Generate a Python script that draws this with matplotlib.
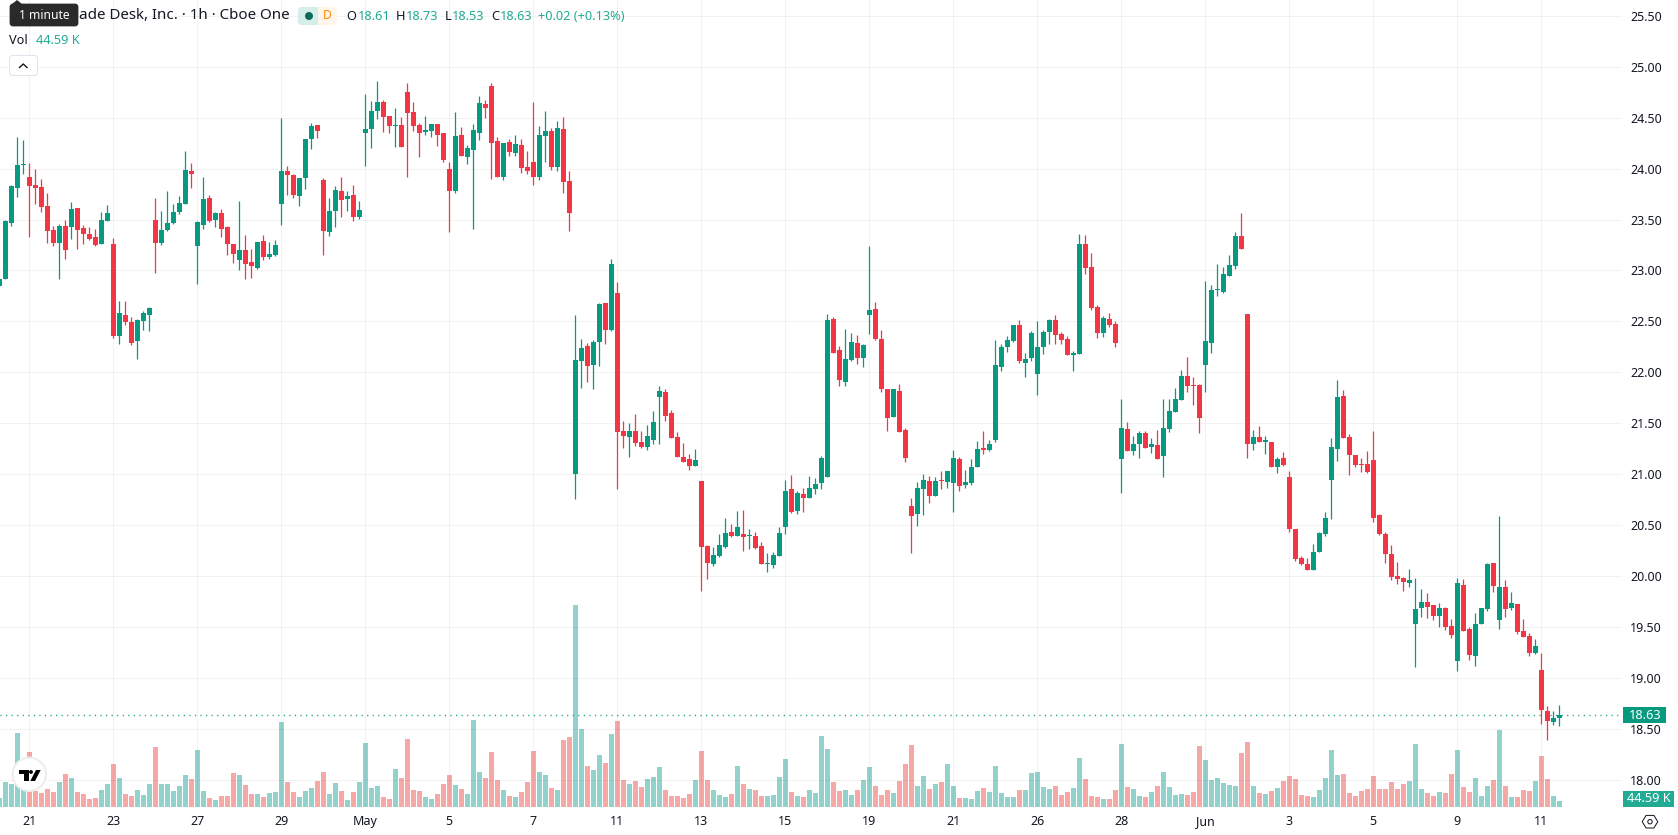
import matplotlib
matplotlib.use("Agg")
import matplotlib.pyplot as plt
import numpy as np
from matplotlib.patches import Circle, FancyBboxPatch, Polygon, Rectangle

WIDTH_PX, HEIGHT_PX = 1678, 835
PLOT_RIGHT = 1622
PLOT_BOTTOM = 807
BAR_PX = 6
PX_PER_DOLLAR = 101.83
K_PER_PX = 44.59 / 6

UP = '#089981'
DOWN = '#F23645'
VOL_UP = '#26a69a'
VOL_DOWN = '#ef5350'
INK = '#131722'

plt.rcParams['font.family'] = ['Noto Sans', 'DejaVu Sans']

# hourly candles, The Trade Desk
opens = [
    22.85, 22.92, 23.47, 23.81, 24.04, 23.92, 23.84, 23.82, 23.63, 23.40,
    23.27, 23.44, 23.43, 23.61, 23.42, 23.36, 23.33, 23.26, 23.49, 23.26,
    22.36, 22.56, 22.49, 22.31, 22.50, 22.56, 23.50, 23.27, 23.40, 23.47,
    23.57, 23.65, 23.98, 23.24, 23.45, 23.71, 23.50, 23.56, 23.43, 23.26,
    23.10, 23.20, 23.08, 23.02, 23.29, 23.13, 23.15, 23.65, 23.98, 23.94,
    23.73, 23.91, 24.29, 24.43, 23.89, 23.38, 23.58, 23.78, 23.70, 23.74,
    23.53, 24.35, 24.39, 24.57, 24.65, 24.52, 24.42, 24.43, 24.75, 24.56,
    24.43, 24.36, 24.37, 24.44, 24.35, 24.00, 23.78, 24.33, 24.11, 24.18,
    24.35, 24.63, 24.81, 24.27, 23.92, 24.26, 24.15, 24.23, 24.02, 24.07,
    23.92, 24.32, 24.37, 24.02, 24.39, 23.88, 21.00, 22.11, 22.26, 22.07,
    22.30, 22.68, 22.42, 22.78, 21.42, 21.36, 21.42, 21.32, 21.27, 21.34,
    21.76, 21.81, 21.60, 21.36, 21.17, 21.15, 21.08, 20.93, 20.29, 20.12,
    20.20, 20.28, 20.43, 20.39, 20.41, 20.39, 20.39, 20.29, 20.12, 20.11,
    20.20, 20.48, 20.85, 20.64, 20.80, 20.77, 20.85, 20.91, 20.97, 22.52,
    22.22, 21.90, 22.12, 22.29, 22.14, 22.56, 22.62, 22.33, 21.84, 21.56,
    21.82, 21.43, 20.69, 20.61, 20.85, 20.93, 20.79, 20.94, 20.92, 20.91,
    21.15, 20.89, 20.91, 21.07, 21.26, 21.24, 21.34, 22.05, 22.25, 22.31,
    22.46, 22.09, 22.14, 21.98, 22.25, 22.40, 22.51, 22.38, 22.33, 22.17,
    22.18, 23.26, 23.03, 22.64, 22.39, 22.52, 22.47, 21.15, 21.44, 21.23,
    21.30, 21.40, 21.27, 21.29, 21.18, 21.44, 21.61, 21.73, 21.96, 21.88,
    21.88, 22.07, 22.29, 22.81, 22.79, 22.95, 23.04, 23.34, 22.57, 21.30,
    21.36, 21.32, 21.32, 21.07, 21.16, 20.97, 20.46, 20.18, 20.12, 20.06,
    20.24, 20.41, 20.94, 21.25, 21.77, 21.36, 21.19, 21.10, 21.10, 21.14,
    20.60, 20.41, 20.22, 20.00, 19.98, 19.93, 19.53, 19.69, 19.74, 19.71,
    19.61, 19.69, 19.51, 19.16, 19.91, 19.48, 19.21, 19.53, 19.68, 20.13,
    19.57, 19.89, 19.69, 19.72, 19.46, 19.41, 19.24, 19.08, 18.67, 18.57,
    18.61,
]
closes = [
    22.92, 23.49, 23.83, 24.04, 24.05, 23.83, 23.81, 23.62, 23.39, 23.27,
    23.44, 23.20, 23.60, 23.40, 23.36, 23.31, 23.25, 23.50, 23.56, 22.36,
    22.58, 22.49, 22.29, 22.51, 22.58, 22.63, 23.27, 23.40, 23.47, 23.57,
    23.66, 23.99, 23.95, 23.48, 23.70, 23.49, 23.56, 23.41, 23.26, 23.16,
    23.20, 23.06, 23.04, 23.28, 23.13, 23.16, 23.25, 23.98, 23.94, 23.74,
    23.91, 24.29, 24.42, 24.37, 23.39, 23.58, 23.79, 23.69, 23.73, 23.53,
    23.59, 24.39, 24.57, 24.65, 24.51, 24.42, 24.43, 24.21, 24.55, 24.42,
    24.35, 24.38, 24.44, 24.33, 24.08, 23.78, 24.32, 24.12, 24.20, 24.38,
    24.64, 24.60, 24.25, 23.92, 24.25, 24.16, 24.24, 24.01, 23.98, 23.92,
    24.33, 24.37, 24.02, 24.40, 23.87, 23.56, 22.12, 22.24, 22.06, 22.30,
    22.67, 22.42, 23.06, 21.41, 21.37, 21.42, 21.31, 21.27, 21.37, 21.51,
    21.82, 21.57, 21.35, 21.17, 21.12, 21.08, 21.14, 20.28, 20.13, 20.21,
    20.30, 20.42, 20.39, 20.48, 20.38, 20.40, 20.27, 20.12, 20.13, 20.21,
    20.42, 20.83, 20.63, 20.81, 20.77, 20.86, 20.90, 21.16, 22.51, 22.19,
    21.92, 22.13, 22.30, 22.14, 22.27, 22.61, 22.33, 21.84, 21.55, 21.84,
    21.41, 21.16, 20.59, 20.86, 20.94, 20.79, 20.93, 20.93, 21.03, 21.16,
    20.88, 20.92, 21.07, 21.25, 21.24, 21.30, 22.07, 22.25, 22.32, 22.46,
    22.11, 22.13, 22.39, 22.25, 22.40, 22.51, 22.37, 22.32, 22.17, 22.19,
    23.26, 23.02, 22.63, 22.39, 22.53, 22.46, 22.29, 21.45, 21.23, 21.30,
    21.40, 21.26, 21.30, 21.15, 21.45, 21.62, 21.74, 21.96, 21.87, 21.87,
    21.55, 22.31, 22.81, 22.82, 22.97, 23.05, 23.34, 23.21, 21.30, 21.36,
    21.32, 21.34, 21.07, 21.15, 21.09, 20.46, 20.17, 20.12, 20.06, 20.24,
    20.42, 20.57, 21.27, 21.76, 21.35, 21.19, 21.09, 21.09, 21.02, 20.57,
    20.41, 20.22, 19.99, 19.97, 19.94, 19.96, 19.68, 19.74, 19.70, 19.61,
    19.69, 19.50, 19.42, 19.93, 19.46, 19.22, 19.53, 19.69, 20.12, 19.90,
    19.89, 19.68, 19.73, 19.45, 19.40, 19.24, 19.31, 18.68, 18.58, 18.61,
    18.63,
]
highs = [
    22.92, 23.50, 23.84, 24.31, 24.28, 24.06, 24.00, 23.90, 23.76, 23.44,
    23.46, 23.50, 23.67, 23.61, 23.45, 23.43, 23.41, 23.57, 23.64, 23.32,
    22.70, 22.70, 22.54, 22.52, 22.60, 22.64, 23.71, 23.58, 23.78, 23.65,
    23.73, 24.17, 24.06, 23.49, 23.92, 23.74, 23.57, 23.60, 23.44, 23.26,
    23.68, 23.35, 23.21, 23.28, 23.35, 23.28, 23.30, 24.50, 24.03, 23.95,
    23.91, 24.29, 24.45, 24.43, 23.91, 23.71, 23.83, 23.92, 23.78, 23.84,
    23.68, 24.73, 24.66, 24.86, 24.67, 24.52, 24.60, 24.51, 24.84, 24.65,
    24.45, 24.52, 24.44, 24.44, 24.35, 24.07, 24.56, 24.41, 24.23, 24.44,
    24.71, 24.67, 24.84, 24.31, 24.25, 24.29, 24.33, 24.29, 24.17, 24.65,
    24.42, 24.57, 24.40, 24.47, 24.51, 23.98, 22.56, 22.33, 22.29, 22.32,
    22.68, 22.68, 23.11, 22.89, 21.52, 21.50, 21.59, 21.42, 21.48, 21.62,
    21.87, 21.84, 21.63, 21.41, 21.31, 21.20, 21.25, 20.93, 20.30, 20.28,
    20.41, 20.57, 20.51, 20.64, 20.65, 20.46, 20.43, 20.33, 20.23, 20.24,
    20.48, 20.94, 20.99, 20.83, 20.86, 20.98, 20.96, 21.18, 22.57, 22.54,
    22.26, 22.43, 22.39, 22.37, 22.28, 23.24, 22.69, 22.42, 21.84, 21.84,
    21.89, 21.45, 20.77, 20.92, 21.00, 20.98, 20.97, 21.03, 21.03, 21.24,
    21.17, 21.04, 21.15, 21.33, 21.42, 21.34, 22.32, 22.28, 22.36, 22.46,
    22.51, 22.19, 22.41, 22.50, 22.42, 22.52, 22.56, 22.40, 22.36, 22.21,
    23.36, 23.35, 23.17, 22.66, 22.55, 22.58, 22.50, 21.74, 21.51, 21.37,
    21.42, 21.42, 21.35, 21.43, 21.74, 21.74, 21.85, 22.02, 22.15, 21.95,
    21.89, 22.90, 22.86, 23.06, 23.03, 23.15, 23.38, 23.56, 22.57, 21.43,
    21.47, 21.37, 21.32, 21.17, 21.22, 21.03, 20.46, 20.20, 20.18, 20.31,
    20.43, 20.63, 21.35, 21.92, 21.83, 21.39, 21.19, 21.16, 21.23, 21.42,
    20.61, 20.43, 20.30, 20.14, 19.99, 20.07, 19.98, 19.87, 19.83, 19.71,
    19.73, 19.70, 19.58, 19.98, 19.97, 19.50, 19.64, 19.69, 20.13, 20.13,
    20.59, 19.96, 19.84, 19.72, 19.58, 19.44, 19.38, 19.24, 18.72, 18.67,
    18.73,
]
lows = [
    22.84, 22.92, 23.44, 23.72, 23.95, 23.33, 23.65, 23.57, 23.27, 23.24,
    22.92, 23.11, 23.31, 23.21, 23.26, 23.30, 23.24, 23.26, 23.49, 22.34,
    22.28, 22.46, 22.27, 22.13, 22.42, 22.41, 22.98, 23.25, 23.39, 23.46,
    23.55, 23.65, 23.81, 22.87, 23.41, 23.48, 23.43, 23.33, 23.15, 23.07,
    23.00, 22.92, 22.93, 23.01, 23.10, 23.11, 23.14, 23.45, 23.74, 23.71,
    23.63, 23.80, 24.19, 24.30, 23.15, 23.34, 23.43, 23.53, 23.58, 23.49,
    23.51, 24.03, 24.20, 24.49, 24.36, 24.35, 24.21, 24.21, 23.92, 24.37,
    24.11, 24.33, 24.31, 24.22, 24.07, 23.38, 23.76, 24.12, 24.05, 23.41,
    24.28, 24.50, 23.90, 23.92, 23.89, 24.12, 24.12, 23.96, 23.95, 23.84,
    23.89, 24.07, 23.99, 23.98, 23.76, 23.39, 20.76, 21.85, 21.90, 21.84,
    22.06, 22.28, 22.41, 20.85, 21.26, 21.17, 21.28, 21.26, 21.24, 21.30,
    21.30, 21.52, 21.35, 21.17, 21.12, 21.04, 21.08, 19.85, 19.97, 20.10,
    20.19, 20.27, 20.38, 20.39, 20.25, 20.26, 20.26, 20.12, 20.04, 20.08,
    20.20, 20.41, 20.62, 20.61, 20.63, 20.77, 20.80, 20.85, 20.97, 22.19,
    21.87, 21.87, 22.11, 22.08, 22.05, 22.38, 22.32, 21.81, 21.42, 21.56,
    21.41, 21.12, 20.23, 20.49, 20.60, 20.72, 20.79, 20.85, 20.86, 20.63,
    20.83, 20.86, 20.89, 21.07, 21.20, 21.23, 21.32, 22.01, 22.20, 22.30,
    22.09, 21.95, 22.11, 21.78, 22.18, 22.28, 22.28, 22.28, 22.17, 22.01,
    22.18, 22.97, 22.61, 22.34, 22.35, 22.44, 22.25, 20.81, 21.23, 21.19,
    21.16, 21.26, 21.21, 21.15, 20.97, 21.41, 21.61, 21.73, 21.81, 21.68,
    21.40, 21.81, 22.19, 22.75, 22.78, 22.95, 23.01, 23.21, 21.16, 21.24,
    21.32, 21.20, 21.07, 21.01, 21.08, 20.43, 20.15, 20.11, 20.06, 20.06,
    20.24, 20.39, 20.56, 21.13, 21.35, 20.99, 21.07, 21.02, 21.01, 20.53,
    20.40, 20.13, 19.96, 19.92, 19.85, 19.89, 19.11, 19.60, 19.59, 19.57,
    19.50, 19.47, 19.39, 19.07, 19.46, 19.17, 19.12, 19.53, 19.66, 19.84,
    19.48, 19.60, 19.67, 19.43, 19.40, 19.21, 19.23, 18.55, 18.39, 18.54,
    18.53,
]
# volume in thousands of shares
volumes = [
    67, 186, 171, 550, 126, 409, 119, 104, 134, 111,
    186, 245, 215, 111, 97, 59, 67, 126, 171, 319,
    215, 97, 82, 126, 89, 171, 446, 171, 171, 119,
    156, 238, 208, 424, 119, 67, 52, 82, 82, 253,
    238, 163, 97, 97, 74, 104, 111, 632, 186, 111,
    74, 119, 141, 193, 260, 97, 178, 119, 52, 111,
    186, 476, 141, 156, 74, 59, 282, 215, 505, 126,
    119, 74, 59, 97, 171, 238, 163, 134, 97, 646,
    260, 215, 409, 201, 126, 82, 74, 111, 186, 416,
    260, 238, 141, 126, 498, 520, 1501, 580, 305, 275,
    386, 327, 542, 639, 201, 171, 193, 149, 208, 223,
    297, 126, 82, 82, 67, 97, 201, 416, 201, 126,
    89, 74, 97, 305, 171, 134, 126, 82, 82, 89,
    223, 357, 111, 82, 74, 126, 104, 528, 431, 186,
    119, 126, 89, 126, 201, 297, 156, 89, 126, 104,
    193, 319, 461, 156, 230, 134, 171, 186, 319, 156,
    67, 67, 59, 119, 141, 111, 305, 104, 74, 74,
    126, 126, 253, 260, 149, 134, 156, 89, 111, 141,
    364, 208, 82, 74, 59, 59, 126, 468, 149, 134,
    82, 74, 111, 156, 260, 149, 89, 97, 89, 111,
    453, 349, 201, 215, 178, 163, 156, 401, 483, 156,
    104, 97, 119, 141, 193, 230, 208, 89, 82, 74,
    126, 215, 424, 238, 245, 104, 82, 119, 134, 230,
    134, 134, 186, 134, 171, 193, 468, 134, 104, 82,
    111, 104, 245, 424, 149, 111, 215, 82, 156, 201,
    572, 156, 74, 74, 126, 119, 193, 379, 208, 82,
    44.59,
]
date_ticks = [5, 19, 33, 47, 61, 75, 89, 103, 117, 131, 145, 159, 173, 187, 201, 215, 229, 243, 257]
date_labels = ['21', '23', '27', '29', 'May', '5', '7', '11', '13', '15', '19', '21', '26', '28', 'Jun', '3', '5', '9', '11']
price_ticks = np.arange(18, 25.51, 0.5)
last_price = 18.63

o = np.array(opens)
c = np.array(closes)
h = np.array(highs)
l = np.array(lows)
v = np.array(volumes)
x = np.arange(len(o))
rising = c >= o

fig = plt.figure(figsize=(WIDTH_PX / 100, HEIGHT_PX / 100), dpi=100, facecolor='white')
ax = fig.add_axes([0, 1 - PLOT_BOTTOM / HEIGHT_PX, PLOT_RIGHT / WIDTH_PX, PLOT_BOTTOM / HEIGHT_PX])
vol_ax = ax.twinx()
vol_ax.set_zorder(ax.get_zorder() - 1)
ax.patch.set_visible(False)

ax.set_xlim(0.7 / BAR_PX, (PLOT_RIGHT + 0.7) / BAR_PX)
ax.set_ylim(22 - (PLOT_BOTTOM - 372.3) / PX_PER_DOLLAR, 22 + 372.3 / PX_PER_DOLLAR)
vol_ax.set_ylim(0, PLOT_BOTTOM * K_PER_PX)

# volume pane sits under the candles
vol_ax.bar(x[rising], v[rising], width=5 / BAR_PX, color=VOL_UP, alpha=0.5, linewidth=0)
vol_ax.bar(x[~rising], v[~rising], width=5 / BAR_PX, color=VOL_DOWN, alpha=0.5, linewidth=0)
vol_ax.set_yticks([])

ax.vlines(x[rising], l[rising], h[rising], color=UP, linewidth=0.9, zorder=3)
ax.vlines(x[~rising], l[~rising], h[~rising], color=DOWN, linewidth=0.9, zorder=3)
body_low = np.minimum(o, c)
body_size = np.maximum(np.abs(c - o), 0.01)
ax.bar(x[rising], body_size[rising], bottom=body_low[rising], width=5 / BAR_PX, color=UP, linewidth=0, zorder=4)
ax.bar(x[~rising], body_size[~rising], bottom=body_low[~rising], width=5 / BAR_PX, color=DOWN, linewidth=0, zorder=4)

ax.axhline(last_price, color=UP, linewidth=1.0, linestyle=(0, (0.8, 3.2)), zorder=5)

ax.set_xticks(date_ticks)
ax.set_xticklabels(date_labels)
for tick_label, name in zip(ax.get_xticklabels(), date_labels):
    if name in ('May', 'Jun'):
        tick_label.set_fontweight('bold')
ax.yaxis.tick_right()
ax.set_yticks(price_ticks)
ax.set_yticklabels(['{:.2f}'.format(p) for p in price_ticks])
ax.tick_params(axis='x', length=0, pad=6.0, labelsize=9, labelcolor=INK)
ax.tick_params(axis='y', length=0, pad=6.0, labelsize=9, labelcolor=INK)
ax.grid(True, color='#2a2e39', alpha=0.06, linewidth=0.72)
ax.set_axisbelow(True)
for axis in (ax, vol_ax):
    for spine in axis.spines.values():
        spine.set_visible(False)
vol_ax.tick_params(length=0, labelbottom=False)

# screen-space layer for the legend, tooltip and axis badges
ui = fig.add_axes([0, 0, 1, 1], zorder=10)
ui.set_xlim(0, WIDTH_PX)
ui.set_ylim(HEIGHT_PX, 0)
ui.axis('off')
ui.patch.set_visible(False)

ui.text(79, 15.5, 'ade Desk, Inc. · 1h · Cboe One', ha='left', va='center', fontsize=10.9, color=INK)

ui.add_patch(FancyBboxPatch((11, 5), 66, 20, boxstyle='round,pad=0,rounding_size=2', linewidth=2,
                            edgecolor='#2a2a2a', facecolor='#2a2a2a', mutation_aspect=1))
ui.add_patch(Polygon([[12, 4], [17, 0], [22, 4]], closed=True, color='#2a2a2a', linewidth=0))
ui.text(44, 15.5, '1 minute', ha='center', va='center', fontsize=8.7, color='white')

ui.add_patch(FancyBboxPatch((300, 9), 16, 14, boxstyle='round,pad=0,rounding_size=2', linewidth=3,
                            edgecolor='#D6EEEA', facecolor='#D6EEEA'))
ui.add_patch(FancyBboxPatch((320, 9), 15, 14, boxstyle='round,pad=0,rounding_size=2', linewidth=3,
                            edgecolor='#FFF5EB', facecolor='#FFF5EB'))
ui.add_patch(Rectangle((312, 7.3), 6, 17.7, facecolor='#D6EEEA', linewidth=0))
ui.add_patch(Rectangle((318, 7.3), 10, 17.7, facecolor='#FFF5EB', linewidth=0))
ui.add_patch(Circle((309, 16), 4, facecolor='#0B6B5B', linewidth=0))
ui.text(327.5, 15.5, 'D', ha='center', va='center', fontsize=8.7, fontweight='bold', color='#FF8A00')

for px, name in ((346, 'O'), (396, 'H'), (445, 'L'), (491, 'C')):
    ui.text(px, 16, name, ha='left', va='center', fontsize=9.2, color=INK)
legend_teal = '#22AB94'
for px, value in ((358.3, '18.61'), (406, '18.73'), (452.3, '18.53'), (500, '18.63'), (538.3, '+0.02 (+0.13%)')):
    ui.text(px, 16, value, ha='left', va='center', fontsize=9.2, color=legend_teal)

ui.text(9, 40, 'Vol', ha='left', va='center', fontsize=9.2, color=INK)
ui.text(36.5, 40, '44.59 K', ha='left', va='center', fontsize=9.2, color=legend_teal)

ui.add_patch(FancyBboxPatch((9.5, 55.5), 28, 20, boxstyle='round,pad=0,rounding_size=3', linewidth=0.72,
                            edgecolor='#E0E3EB', facecolor='white'))
ui.plot([19.5, 23.3, 27], [67.5, 64, 67.5], color=INK, linewidth=1)

# logo button over the volume pane
ui.add_patch(Circle((29.3, 774.3), 16.7, facecolor='white', edgecolor='#EDEDED', linewidth=1.4))
ui.add_patch(Polygon([[19, 770], [29.3, 770], [29.3, 781], [24, 781], [24, 774], [19, 774]], closed=True,
                     facecolor='black', linewidth=0))
ui.add_patch(Circle((31, 772), 1.9, facecolor='black', linewidth=0))
ui.add_patch(Polygon([[36, 770], [40.7, 770], [35, 781], [30.3, 781]], closed=True, facecolor='black', linewidth=0))

ui.add_patch(Rectangle((1623, 707.3), 43, 16, facecolor=UP, linewidth=0))
ui.text(1645, 715.3, '18.63', ha='center', va='center', fontsize=9.2, color='white')
ui.add_patch(Rectangle((1623, 791), 51, 16, facecolor=legend_teal, linewidth=0))
ui.text(1649, 799, '44.59 K', ha='center', va='center', fontsize=9.2, color='white')

# chart settings glyph
ui.add_patch(Polygon([[1642.2, 821.7], [1646.1, 815.4], [1653.9, 815.4], [1657.8, 821.7], [1653.9, 828], [1646.1, 828]],
                     closed=True, facecolor='white', edgecolor=INK, linewidth=0.72))
ui.add_patch(Circle((1650, 821.7), 2.2, facecolor='white', edgecolor=INK, linewidth=0.72))

fig.savefig('out.png', dpi=100)
